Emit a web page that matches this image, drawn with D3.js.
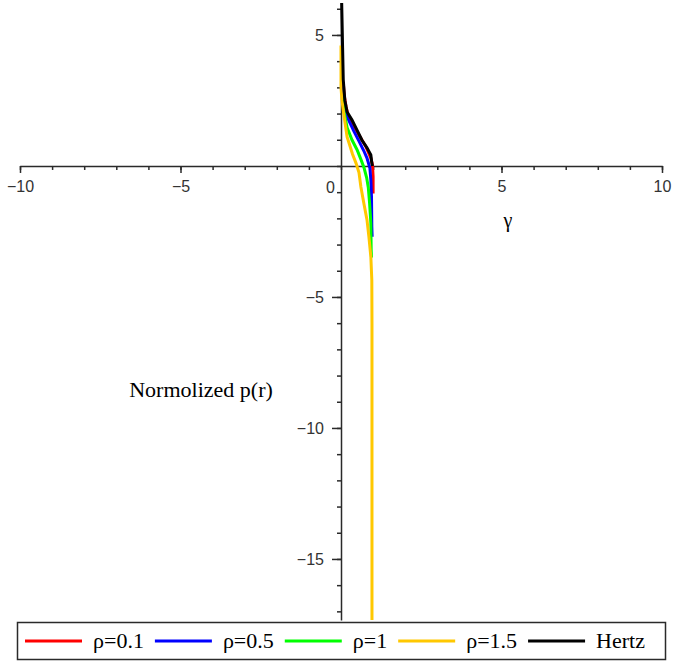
<!DOCTYPE html>
<html>
<head>
<meta charset="utf-8">
<script src="https://cdn.jsdelivr.net/npm/d3@7"></script>
<style>
  body { margin: 0; background: #ffffff; }
  svg { display: block; }
</style>
</head>
<body>
<svg id="chart" width="674" height="664"></svg>
<script>
// Series labels and colours, in drawing order (Hertz drawn last, on top)
const seriesNames  = ["ρ=0.1", "ρ=0.5", "ρ=1", "ρ=1.5", "Hertz"];
const seriesColors = ["#ff0000", "#0000ff", "#00ff00", "#ffc800", "#000000"];

// Normalised pressure p(r) against radius r, one pair of arrays per curve
const rRho01 = [0.07, 0.10, 0.16, 0.23, 0.35, 0.56, 0.78, 0.93, 0.98, 1.00, 1.00];
const pRho01 = [3.2, 2.7, 2.25, 1.9, 1.62, 1.18, 0.73, 0.30, 0.05, -0.40, -1.05];

const rRho05 = [0.07, 0.09, 0.14, 0.25, 0.40, 0.56, 0.71, 0.81, 0.90, 0.93, 0.95, 0.96, 0.97];
const pRho05 = [3.0, 2.45, 2.0, 1.72, 1.33, 0.95, 0.58, 0.30, -0.08, -0.53, -1.18, -2.33, -2.70];

const rRho1 = [0.07, 0.09, 0.19, 0.34, 0.50, 0.62, 0.72, 0.80, 0.85, 0.89, 0.93, 0.94, 0.95];
const pRho1 = [2.7, 2.1, 1.47, 1.0, 0.62, 0.25, -0.08, -0.45, -0.82, -1.41, -2.18, -3.20, -3.50];

const rRho15 = [0.0, 0.0, 0.03, 0.09, 0.19, 0.27, 0.36, 0.47, 0.56, 0.62, 0.71, 0.81, 0.87, 0.93, 0.96, 0.965, 0.965];
const pRho15 = [4.6, 3.0, 2.5, 1.95, 1.11, 0.80, 0.45, 0.10, -0.25, -0.80, -1.41, -2.06, -2.71, -3.47, -4.35, -6.0, -17.4];

const rHertz = [0.02, 0.05, 0.07, 0.12, 0.19, 0.34, 0.50, 0.65, 0.81, 0.93, 0.96, 0.98];
const pHertz = [6.3, 4.5, 3.3, 2.5, 2.06, 1.76, 1.37, 0.99, 0.69, 0.42, 0.11, 0.0];

const seriesR = [rRho01, rRho05, rRho1, rRho15, rHertz];
const seriesP = [pRho01, pRho05, pRho1, pRho15, pHertz];

// Axis ticks
const xMajorTicks = [-10, -5, 5, 10];
const xMinorTicks = d3.range(-10, 11);
const yMajorTicks = [-15, -10, -5, 5];
const yMinorTicks = d3.range(-17, 7);
const xAxisTitle = "γ";
const yAxisTitle = "Normolized p(r)";

const svg = d3.select("#chart");
const W = 674, H = 664;

const x = d3.scaleLinear().domain([-10, 10]).range([20, 662]);
const y = d3.scaleLinear().domain([-17.33, 6.22]).range([620, 3]);

const axisColor = "#2a2a2a";
const tickFont = "'Liberation Sans', Arial, sans-serif";
const serif = "'Liberation Serif', 'Times New Roman', serif";

// Clip the curves to the plotting region
svg.append("defs").append("clipPath").attr("id", "plotClip")
  .append("rect").attr("x", 0).attr("y", y.range()[1]).attr("width", W)
  .attr("height", y.range()[0] - y.range()[1]);

function styleAxis(g) {
  g.select(".domain").attr("stroke", axisColor).attr("stroke-width", 1.5);
  g.selectAll(".tick line").attr("stroke", axisColor).attr("stroke-width", 1.5);
  g.selectAll(".tick text").attr("fill", "#333").attr("font-family", tickFont).attr("font-size", 16);
}

// Horizontal axis through p = 0
const gxMinor = svg.append("g").attr("transform", `translate(0,${y(0)})`)
  .call(d3.axisBottom(x).tickValues(xMinorTicks).tickSize(4).tickSizeOuter(0).tickFormat(""));
styleAxis(gxMinor);
const gxMajor = svg.append("g").attr("transform", `translate(0,${y(0)})`)
  .call(d3.axisBottom(x).tickValues(xMajorTicks).tickSize(7).tickSizeOuter(0).tickPadding(8));
styleAxis(gxMajor);
gxMajor.select(".domain").remove();

// Vertical axis through r = 0
const gyMinor = svg.append("g").attr("transform", `translate(${x(0)},0)`)
  .call(d3.axisLeft(y).tickValues(yMinorTicks).tickSize(4).tickSizeOuter(0).tickFormat(""));
styleAxis(gyMinor);
const gyMajor = svg.append("g").attr("transform", `translate(${x(0)},0)`)
  .call(d3.axisLeft(y).tickValues(yMajorTicks).tickSize(9).tickSizeOuter(0).tickPadding(8));
styleAxis(gyMajor);
gyMajor.select(".domain").remove();

// Shared origin label
svg.append("text").attr("x", x(0) - 6).attr("y", y(0) + 27)
  .attr("text-anchor", "end").attr("font-family", tickFont).attr("font-size", 16)
  .attr("fill", "#333").text("0");

// Axis titles
svg.append("text").attr("x", x(5.2)).attr("y", y(0) + 61)
  .attr("text-anchor", "middle").attr("font-family", serif).attr("font-size", 20)
  .attr("fill", "#000").text(xAxisTitle);
svg.append("text").attr("x", 201).attr("y", y(-8.8))
  .attr("text-anchor", "middle").attr("font-family", serif).attr("font-size", 22)
  .attr("fill", "#000").text(yAxisTitle);

// Curves
const line = d3.line().x(d => x(d[0])).y(d => y(d[1]));
const curves = svg.append("g").attr("clip-path", "url(#plotClip)");
seriesNames.forEach((name, i) => {
  const pts = seriesR[i].map((r, j) => [r, seriesP[i][j]]);
  curves.append("path").datum(pts)
    .attr("d", line)
    .attr("fill", "none")
    .attr("stroke", seriesColors[i])
    .attr("stroke-width", 3)
    .attr("stroke-linejoin", "miter");
});

// Legend
const legend = svg.append("g");
legend.append("rect").attr("x", 17.5).attr("y", 622.5).attr("width", 648).attr("height", 37)
  .attr("fill", "#fff").attr("stroke", axisColor).attr("stroke-width", 1.5);
let cursor = 25;
const legendY = 641;
seriesNames.forEach((name, i) => {
  legend.append("line").attr("x1", cursor).attr("x2", cursor + 57)
    .attr("y1", legendY).attr("y2", legendY)
    .attr("stroke", seriesColors[i]).attr("stroke-width", 3);
  const t = legend.append("text").attr("x", cursor + 68).attr("y", legendY + 7)
    .attr("font-family", serif).attr("font-size", 22).attr("fill", "#000").text(name);
  cursor = cursor + 68 + t.node().getComputedTextLength() + 11;
});
</script>
</body>
</html>
